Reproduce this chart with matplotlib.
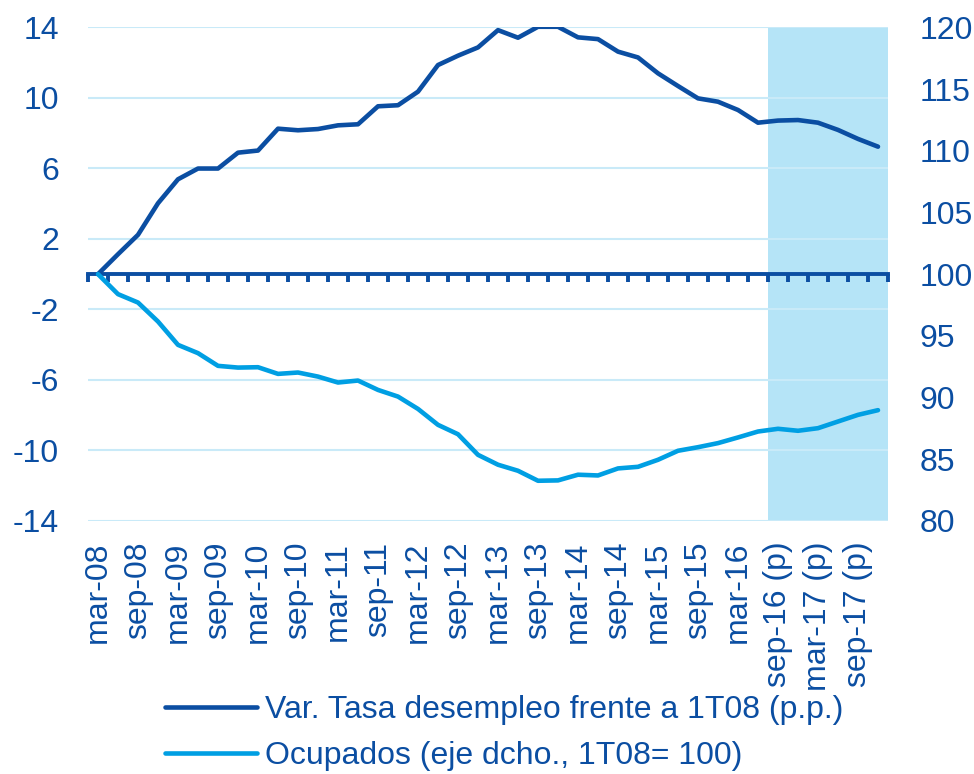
import matplotlib
matplotlib.use("Agg")
import matplotlib.pyplot as plt
import numpy as np

plt.rcParams['font.family'] = ['Liberation Sans', 'DejaVu Sans']
plt.rcParams['axes.unicode_minus'] = False

# Quarterly labels 1T08..4T17 (only every other quarter labelled)
quarters = ["mar-08", "jun-08", "sep-08", "dic-08", "mar-09", "jun-09", "sep-09", "dic-09",
            "mar-10", "jun-10", "sep-10", "dic-10", "mar-11", "jun-11", "sep-11", "dic-11",
            "mar-12", "jun-12", "sep-12", "dic-12", "mar-13", "jun-13", "sep-13", "dic-13",
            "mar-14", "jun-14", "sep-14", "dic-14", "mar-15", "jun-15", "sep-15", "dic-15",
            "mar-16", "jun-16", "sep-16 (p)", "dic-16 (p)", "mar-17 (p)", "jun-17 (p)",
            "sep-17 (p)", "dic-17 (p)"]

# Variation of unemployment rate vs 1T08 (p.p.), left axis
unemp_var = [0.0, 1.13, 2.23, 4.02, 5.38, 5.99, 5.99, 6.89, 7.01, 8.25,
             8.16, 8.23, 8.44, 8.50, 9.52, 9.58, 10.35, 11.86, 12.39, 12.86,
             13.84, 13.41, 14.03, 14.03, 13.43, 13.33, 12.62, 12.29, 11.39, 10.67,
             9.97, 9.78, 9.31, 8.59, 8.71, 8.74, 8.59, 8.18, 7.67, 7.23]

# Employed persons (1T08 = 100), right axis
employed = [100.0, 98.38, 97.70, 96.16, 94.27, 93.60, 92.57, 92.43, 92.46, 91.92,
            92.03, 91.70, 91.22, 91.38, 90.62, 90.08, 89.08, 87.79, 87.03, 85.36,
            84.56, 84.07, 83.26, 83.29, 83.75, 83.69, 84.26, 84.39, 84.96, 85.69,
            85.98, 86.31, 86.77, 87.25, 87.47, 87.31, 87.52, 88.06, 88.60, 88.98]

forecast_start = "sep-16 (p)"

label1 = "Var. Tasa desempleo frente a 1T08 (p.p.)"
label2 = "Ocupados (eje dcho., 1T08= 100)"

dark = '#0b4ea2'
light = '#009fe3'
shade = '#b5e4f7'
grid = '#c9eaf8'
FS = 23

x = np.arange(len(quarters))
fig = plt.figure(figsize=(9.74, 7.74), dpi=100)
ax = fig.add_axes([88/974, 1-521/774, 800/974, (521-27.3)/774])
ax2 = ax.twinx()

ax.set_xlim(-0.5, len(quarters) - 0.5)
ax.set_ylim(-14, 14)
ax.set_yticks(np.arange(-14, 15, 4))
ax2.set_ylim(80, 120)
ax2.set_yticks(np.arange(80, 121, 5))

fs_idx = quarters.index(forecast_start)
ax.axvspan(fs_idx - 0.5, len(quarters) - 0.5, color=shade, lw=0, zorder=0)
ax.yaxis.grid(True, color=grid, lw=1.5, zorder=0.5)
ax.set_axisbelow(True)

l1, = ax.plot(x, unemp_var, color=dark, lw=3.3, solid_capstyle='round', zorder=3)
l2, = ax2.plot(x, employed, color=light, lw=3.3, solid_capstyle='round', zorder=3)

for a in (ax, ax2):
    for s in ('left', 'right', 'bottom'):
        a.spines[s].set_visible(False)
ax2.spines['top'].set_visible(False)
ax.spines['top'].set_position(('data', 0))
ax.spines['top'].set_color(dark)
ax.spines['top'].set_linewidth(2.8)
ax.spines['top'].set_zorder(2.5)

ax.set_xticks(x[::2])
ax.set_xticklabels(quarters[::2], rotation=90, va='top', ha='center')
ax.set_xticks(np.arange(-0.5, len(quarters), 1), minor=True)
ax.tick_params(axis='x', which='major', length=0, bottom=True, top=False,
               labelsize=FS, labelcolor=dark, pad=15)
ax.tick_params(axis='x', which='minor', top=True, bottom=False, direction='in',
               length=6, width=2.8, color=dark)
ax.tick_params(axis='y', length=0, labelsize=FS, labelcolor=dark, pad=21)
ax2.tick_params(axis='y', length=0, labelsize=FS, labelcolor=dark, pad=23)

leg = fig.legend([l1, l2], [label1, label2], loc='upper left',
                 bbox_to_anchor=(152/974, 1-682/774), frameon=False,
                 fontsize=FS, handlelength=2.9, handletextpad=0.25,
                 labelspacing=0.52, borderaxespad=0)
for t in leg.get_texts():
    t.set_color(dark)

fig.savefig('out.png', dpi=100)
